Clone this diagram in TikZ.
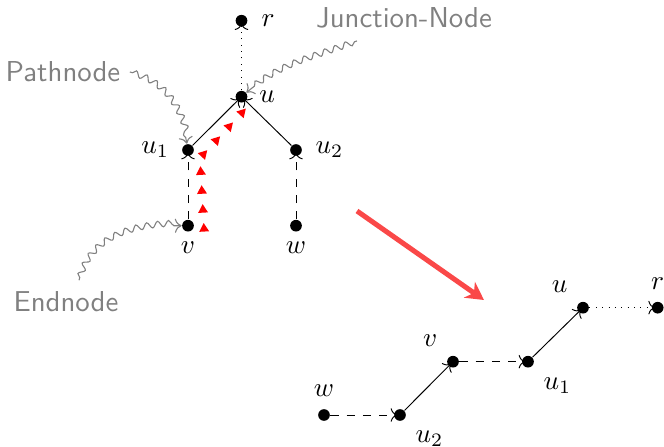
\documentclass[tikz,border=0pt]{standalone}
\usetikzlibrary{arrows.meta,decorations.pathmorphing,decorations.markings,calc}
\definecolor{arrowred}{RGB}{250,72,72}
\begin{document}
\begin{tikzpicture}[x=0.368pt,y=-0.368pt,
  dot/.style={circle,fill=black,inner sep=0pt,minimum size=4.3pt},
  note/.style={text=gray,font=\sffamily\fontsize{10.6}{12}\selectfont},
  pointer/.style={gray,line width=0.4pt,->,decorate,
    decoration={snake,amplitude=1.1pt,segment length=4pt,pre length=1pt,post length=2pt}},
  edgebase/.style={line width=0.35pt,->,shorten >=-1.3pt},
  link/.style={edgebase},
  weak/.style={edgebase,dashed},
  rootlink/.style={edgebase,dotted},
  every label/.style={inner sep=3.33pt},
  trail/.style={decorate,decoration={markings,
    mark=between positions 0 and 1 step 0.1428 with
      {\fill[red] (2.1pt,0) -- (-1.05pt,1.82pt) -- (-1.05pt,-1.82pt) -- cycle;}}},
  bigarrow/.style={arrowred,line width=1.85pt,-{Stealth[length=6.5pt,width=7pt,inset=2pt]}}
]
\useasboundingbox (0,0) rectangle (664,447);

% tree before re-rooting
\node[dot,label={[label distance=1.5pt]right:$r$}] (r) at (241.5,20.7) {};
\node[dot,label={[label distance=0.7pt]right:$u$}] (u) at (241.5,96.7) {};
\node[dot,label={[label distance=1.1pt]left:$u_1$}] (u1) at (188,150) {};
\node[dot,label={[label distance=1.3pt]right:$u_2$}] (u2) at (296,150) {};
\node[dot,label={[label distance=0.2pt]below:$v$}] (v) at (188,225.7) {};
\node[dot,label={[label distance=0.2pt]below:$w$}] (w) at (296,225.7) {};

\draw[rootlink] (u) -- (r);
\draw[link] (u1) -- (u);
\draw[link] (u2) -- (u);
\draw[weak] (v) -- (u1);
\draw[weak] (w) -- (u2);

% path from v up to the junction node
\path[trail] ($(v)+(16,3)$) -- ($(u1)+(12,8)$) -- ($(u)+(0.5,16)$);

% annotations
\node[note] (pathnode) at (63,72) {Pathnode};
\node[note] (junction) at (404,18) {Junction-Node};
\node[note] (endnode) at (66,302) {Endnode};

\draw[pointer] (pathnode.east) to[out=-15,in=100] (u1);
\draw[pointer] ($(junction.south)+(-47,3)$) to[out=200,in=40] (u);
\draw[pointer] ($(endnode.north)+(13,-2)$) to[out=75,in=180] (v);

% re-rooting step
\coordinate (from) at (357,211);
\coordinate (to) at (484,300);
\draw[bigarrow] (from) -- (to);

% resulting path
\node[dot,label={[label distance=1pt]above:$w$}] (bw) at (324,415) {};
\node[dot,label={[label distance=0.8pt]below right:$u_2$}] (bu2) at (400,415) {};
\node[dot,label={[label distance=0.8pt]above left:$v$}] (bv) at (453,361.7) {};
\node[dot,label={[label distance=0.8pt]below right:$u_1$}] (bu1) at (528,361.7) {};
\node[dot,label={[label distance=0.8pt]above left:$u$}] (bu) at (583,307.7) {};
\node[dot,label={[label distance=0.8pt]above:$r$}] (br) at (657.7,307.7) {};

\draw[weak] (bw) -- (bu2);
\draw[link] (bu2) -- (bv);
\draw[weak] (bv) -- (bu1);
\draw[link] (bu1) -- (bu);
\draw[rootlink] (bu) -- (br);
\end{tikzpicture}
\end{document}
